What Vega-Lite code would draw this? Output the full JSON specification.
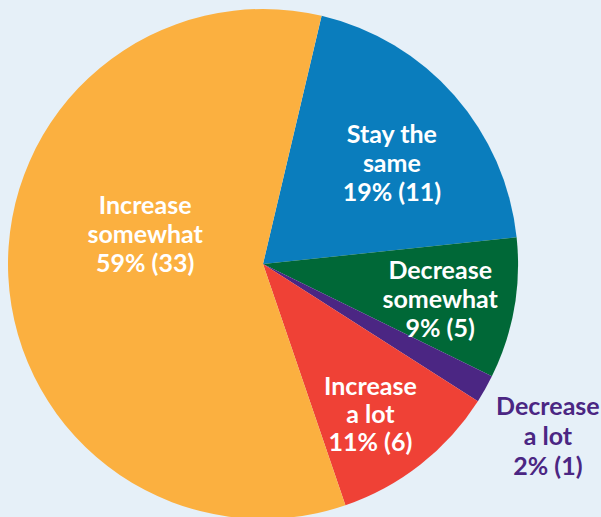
{
  "$schema": "https://vega.github.io/schema/vega-lite/v6.json",
  "width": 526,
  "height": 528,
  "padding": {"left": 0, "top": 0, "right": 75, "bottom": 0},
  "autosize": {"type": "none"},
  "background": "#e6f0f8",
  "view": {"stroke": null},
  "data": {
    "values": [
      {"category": "Stay the same", "count": 11, "rank": 1, "label": "Stay the\nsame\n19% (11)"},
      {"category": "Decrease somewhat", "count": 5, "rank": 2, "label": "Decrease\nsomewhat\n9% (5)"},
      {"category": "Decrease a lot", "count": 1, "rank": 3, "label": "Decrease\na lot\n2% (1)"},
      {"category": "Increase a lot", "count": 6, "rank": 4, "label": "Increase\na lot\n11% (6)"},
      {"category": "Increase somewhat", "count": 33, "rank": 5, "label": "Increase\nsomewhat\n59% (33)"}
    ]
  },
  "encoding": {
    "theta": {"field": "count", "type": "quantitative", "stack": true, "scale": {"range": [0.232, 6.515]}},
    "order": {"field": "rank", "type": "quantitative"},
    "detail": {"field": "category", "type": "nominal"}
  },
  "layer": [
    {
      "mark": {"type": "arc", "outerRadius": 255},
      "encoding": {
        "color": {
          "field": "category",
          "type": "nominal",
          "scale": {
            "domain": ["Stay the same", "Decrease somewhat", "Decrease a lot", "Increase a lot", "Increase somewhat"],
            "range": ["#0a7dbd", "#006837", "#4b2683", "#ef4136", "#fbb040"]
          },
          "legend": null
        }
      }
    },
    {
      "mark": {"type": "text", "radius": 165, "dx": 5, "dy": -20, "font": "Lato", "fontSize": 25, "fontWeight": "bold", "lineBreak": "\n", "lineHeight": 29, "fill": "white", "align": "center", "baseline": "middle"},
      "encoding": {
        "text": {"condition": {"test": "datum.category != 'Stay the same'", "value": ""}, "field": "label", "type": "nominal"}
      }
    },
    {
      "mark": {"type": "text", "radius": 182, "dx": -2, "dy": -25, "font": "Lato", "fontSize": 25, "fontWeight": "bold", "lineBreak": "\n", "lineHeight": 29, "fill": "white", "align": "center", "baseline": "middle"},
      "encoding": {
        "text": {"condition": {"test": "datum.category != 'Decrease somewhat'", "value": ""}, "field": "label", "type": "nominal"}
      }
    },
    {
      "mark": {"type": "text", "radius": 182, "dx": -5, "dy": -20, "font": "Lato", "fontSize": 25, "fontWeight": "bold", "lineBreak": "\n", "lineHeight": 28, "fill": "white", "align": "center", "baseline": "middle"},
      "encoding": {
        "text": {"condition": {"test": "datum.category != 'Increase a lot'", "value": ""}, "field": "label", "type": "nominal"}
      }
    },
    {
      "mark": {"type": "text", "radius": 122, "dx": 4, "dy": -64, "font": "Lato", "fontSize": 25, "fontWeight": "bold", "lineBreak": "\n", "lineHeight": 29, "fill": "white", "align": "center", "baseline": "middle"},
      "encoding": {
        "text": {"condition": {"test": "datum.category != 'Increase somewhat'", "value": ""}, "field": "label", "type": "nominal"}
      }
    },
    {
      "mark": {"type": "text", "radius": 328, "dy": -18, "dx": -1, "font": "Lato", "fontSize": 25, "fontWeight": "bold", "lineBreak": "\n", "lineHeight": 30, "fill": "#4b2683", "align": "center", "baseline": "middle"},
      "encoding": {
        "text": {"condition": {"test": "datum.category != 'Decrease a lot'", "value": ""}, "field": "label", "type": "nominal"}
      }
    }
  ]
}
